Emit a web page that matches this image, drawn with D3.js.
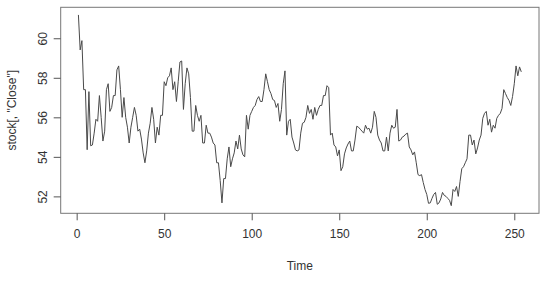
<!DOCTYPE html>
<html>
<head>
<meta charset="utf-8">
<script src="https://cdn.jsdelivr.net/npm/d3@7"></script>
<style>
  body { margin: 0; background: #fff; }
  text { font-family: "Liberation Sans", Arial, sans-serif; fill: #333; }
</style>
</head>
<body>
<div class="chart"></div>
<script>
// closing prices, one per time step (1..254)
const closeValues = [
  61.18, 59.41, 59.88, 57.4, 57.4, 54.36, 57.3, 54.56, 54.6, 55.2,
  55.9, 55.8, 57.1, 56.0, 54.8, 55.3, 57.4, 57.7, 56.3, 56.5,
  57.1, 57.1, 58.4, 58.6, 57.4, 56.0, 57.0, 56.0, 55.5, 54.7,
  55.5, 56.0, 56.5, 56.1, 55.3, 55.4, 54.9, 54.2, 53.7, 54.3,
  55.2, 55.7, 56.5, 55.9, 54.7, 55.5, 55.1, 56.1, 56.1, 57.8,
  57.6, 58.0, 58.1, 58.5, 57.4, 57.8, 56.8, 57.8, 58.8, 58.85,
  56.4, 57.7, 58.5, 58.2, 57.0, 55.3, 55.3, 56.6, 56.1, 55.8,
  56.1, 54.7, 54.7, 55.6, 55.2, 55.2, 55.0, 54.7, 54.6, 53.7,
  53.7, 52.8, 51.67, 52.9, 52.9, 53.9, 54.5, 53.5, 53.9, 54.2,
  54.8, 54.4, 55.1, 54.4, 54.1, 54.0, 56.1, 55.4, 56.1, 56.3,
  56.5, 56.6, 56.9, 57.05, 56.8, 56.8, 57.4, 58.2, 57.8, 57.4,
  57.2, 56.9, 56.85, 56.5, 56.7, 55.8, 56.4, 57.7, 58.35, 55.1,
  55.8, 55.9, 55.0, 54.7, 54.35, 54.3, 54.35, 55.2, 55.7, 55.75,
  56.0, 56.6, 56.2, 56.4, 55.9, 56.5, 56.1, 56.4, 56.6, 56.6,
  57.1, 57.1, 57.6, 57.5, 55.1, 55.2, 54.6, 54.5, 54.05, 54.35,
  53.3, 53.5, 54.15, 54.45, 54.65, 54.8, 54.3, 54.3, 54.85, 55.55,
  55.5, 55.4, 55.3, 55.2, 55.6, 55.4, 55.45, 55.2, 55.5, 56.3,
  56.0, 55.1, 54.85, 54.7, 54.3, 54.3, 55.0, 54.3, 55.2, 55.6,
  55.45, 55.5, 56.4, 54.8, 54.85, 55.0, 55.05, 55.15, 55.2, 54.5,
  54.35, 54.1, 54.25, 53.7, 53.1, 53.05, 53.1, 52.7, 52.35, 52.1,
  51.65, 51.67, 51.9, 52.1, 52.2, 51.6, 51.67, 51.87, 52.2, 52.05,
  52.0, 51.9, 51.8, 51.53, 52.35, 52.25, 52.5, 52.0, 52.75, 53.4,
  53.5, 53.7, 53.9, 55.1, 55.1, 54.6, 54.85, 54.15, 54.45, 54.85,
  55.1, 55.95, 56.2, 56.3, 55.6, 55.9, 55.25, 55.6, 55.45, 55.95,
  56.1, 56.2, 56.45, 57.4, 57.2, 57.0, 56.85, 56.6, 57.05, 57.7,
  58.6, 58.1, 58.55, 58.3
];
const timeTicks = [0, 50, 100, 150, 200, 250];
const closeTicks = [52, 54, 56, 58, 60];
const xTitle = "Time";
const yTitle = 'stock[, "Close"]';

const outerWidth = 549;
const outerHeight = 286;
const plot = {left: 60.7, right: 539, top: 7.3, bottom: 213.3};

const data = closeValues.map((v, i) => ({t: i + 1, close: v}));

const svg = d3.select(".chart")
            .append("svg")
            .attr("width", outerWidth)
            .attr("height", outerHeight);

// R style 4% padding on each side
function padded(ext) {
    const p = (ext[1] - ext[0]) * 0.04;
    return [ext[0] - p, ext[1] + p];
}

const xScale = d3.scaleLinear()
            .domain(padded(d3.extent(data, d => d.t)))
            .range([plot.left, plot.right]);

const yScale = d3.scaleLinear()
            .domain(padded(d3.extent(data, d => d.close)))
            .range([plot.bottom, plot.top]);

const line = d3.line()
            .x(d => xScale(d.t))
            .y(d => yScale(d.close));

svg.append("path")
    .datum(data)
    .attr("d", line)
    .attr("fill", "none")
    .attr("stroke", "#4a4a4a")
    .attr("stroke-width", 1)
    .attr("stroke-linejoin", "round");

// box around plot region
svg.append("rect")
    .attr("x", plot.left)
    .attr("y", plot.top)
    .attr("width", plot.right - plot.left)
    .attr("height", plot.bottom - plot.top)
    .attr("fill", "none")
    .attr("stroke", "#777")
    .attr("stroke-width", 1);

const xAxis = d3.axisBottom(xScale)
            .tickValues(timeTicks)
            .tickSize(7)
            .tickSizeOuter(0)
            .tickPadding(9);

const yAxis = d3.axisLeft(yScale)
            .tickValues(closeTicks)
            .tickSize(7)
            .tickSizeOuter(0);

const gx = svg.append("g")
    .attr("transform", `translate(0, ${plot.bottom})`)
    .call(xAxis);
gx.select(".domain").remove();
gx.selectAll("line").attr("stroke", "#555");
gx.selectAll("text")
    .attr("font-size", 12)
    .attr("fill", "#333");

const gy = svg.append("g")
    .attr("transform", `translate(${plot.left}, 0)`)
    .call(yAxis);
gy.select(".domain").remove();
gy.selectAll("line").attr("stroke", "#555");
// R draws y tick labels parallel to the axis (tick group already sits at the value)
gy.selectAll("text")
    .attr("font-size", 12)
    .attr("fill", "#333")
    .attr("x", null)
    .attr("dy", null)
    .attr("y", 0)
    .attr("text-anchor", "middle")
    .attr("transform", "translate(-14, 0) rotate(-90)");

svg.append("text")
    .attr("x", (plot.left + plot.right) / 2)
    .attr("y", 270)
    .attr("text-anchor", "middle")
    .attr("font-size", 12)
    .text(xTitle);

svg.append("text")
    .attr("transform", `translate(16, ${(plot.top + plot.bottom) / 2}) rotate(-90)`)
    .attr("text-anchor", "middle")
    .attr("font-size", 12)
    .text(yTitle);
</script>
</body>
</html>
